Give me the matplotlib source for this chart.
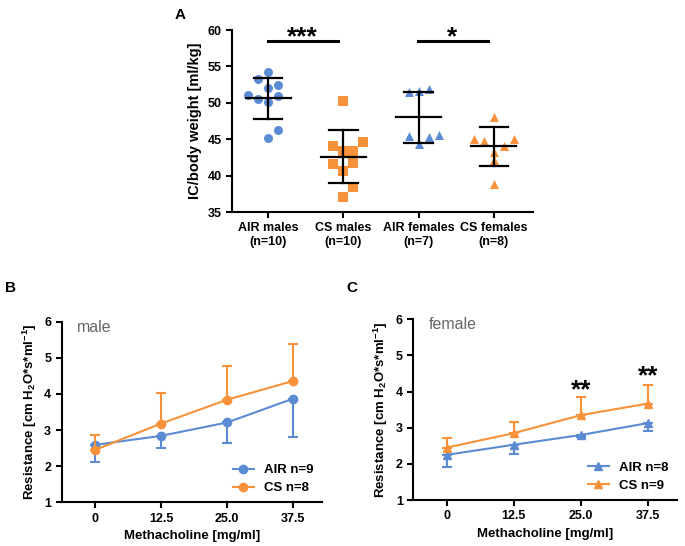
import matplotlib
matplotlib.use('Agg')
import matplotlib.pyplot as plt
from matplotlib.lines import Line2D
import numpy as np

plt.rcParams['font.family'] = ['Liberation Sans', 'DejaVu Sans']
plt.rcParams['font.weight'] = 'bold'
plt.rcParams['mathtext.fontset'] = 'custom'
plt.rcParams['mathtext.bf'] = 'Liberation Sans:bold'
plt.rcParams['mathtext.rm'] = 'Liberation Sans:bold'
plt.rcParams['mathtext.default'] = 'bf'

BLUE = '#5b8bd3'
ORANGE = '#f7923a'

# ---- panel A data (IC / body weight, ml/kg)
groups = ['AIR males\n(n=10)', 'CS males\n(n=10)', 'AIR females\n(n=7)', 'CS females\n(n=8)']
air_males = [54.2, 53.3, 52.4, 52.1, 51.1, 51.0, 50.5, 50.05, 46.3, 45.2]
cs_males = [50.2, 44.6, 44.1, 43.4, 43.4, 41.8, 41.6, 40.7, 38.4, 37.1]
air_females = [51.5, 51.6, 51.9, 45.4, 45.3, 45.6, 44.3]
cs_females = [48.0, 45.0, 44.8, 45.0, 44.0, 43.3, 42.1, 38.8]
group_mean = [50.6, 42.6, 48.0, 44.0]
group_sd = [2.85, 3.6, 3.5, 2.65]

# ---- panel B/C data (resistance)
mch = [0, 12.5, 25.0, 37.5]
male_air = [2.59, 2.84, 3.21, 3.87]
male_air_err = [0.46, 0.35, 0.57, 1.07]
male_cs = [2.45, 3.18, 3.84, 4.36]
male_cs_err = [0.41, 0.86, 0.92, 1.02]
female_air = [2.25, 2.53, 2.80, 3.13]
female_air_err = [0.35, 0.26, 0.07, 0.21]
female_cs = [2.45, 2.85, 3.35, 3.67]
female_cs_err = [0.27, 0.30, 0.49, 0.52]

fig = plt.figure(figsize=(6.85, 5.46), dpi=100)


def style_axes(ax):
    for s in ['top', 'right']:
        ax.spines[s].set_visible(False)
    for s in ['left', 'bottom']:
        ax.spines[s].set_linewidth(1.5)
    ax.tick_params(direction='out', width=1.5, length=4, labelsize=9)
    for lab in ax.get_xticklabels() + ax.get_yticklabels():
        lab.set_fontweight('bold')


# ---------------- A
axA = fig.add_axes([0.3387, 0.6117, 0.4394, 0.3333])
# horizontal column offsets for the dot plot
offsets = [
    [0, -1, 1, 0, -2, 1, -1, 0, 1, 0],
    [0, 2, -1, 0, 1, 1, -1, 0, 1, 0],
    [-1, 0, 1, -1, 1, 2, 0],
    [0, -2, -1, 2, 1, 0, 0, 0],
]
data_a = [air_males, cs_males, air_females, cs_females]
marks = ['o', 's', '^', '^']
cols = [BLUE, ORANGE, BLUE, ORANGE]
for i, (vals, off) in enumerate(zip(data_a, offsets)):
    x = i + np.array(off) * 0.133
    axA.scatter(x, vals, marker=marks[i], s=42, color=cols[i], zorder=2, linewidths=0)
    m, sd = group_mean[i], group_sd[i]
    axA.plot([i - 0.3, i + 0.3], [m, m], color='black', lw=1.6, zorder=3)
    axA.plot([i, i], [m - sd, m + sd], color='black', lw=1.6, zorder=3)
    axA.plot([i - 0.19, i + 0.19], [m + sd, m + sd], color='black', lw=1.6, zorder=3)
    axA.plot([i - 0.19, i + 0.19], [m - sd, m - sd], color='black', lw=1.6, zorder=3)

axA.plot([0, 0.93], [58.5, 58.5], color='black', lw=2.2, clip_on=False)
axA.plot([1.99, 2.92], [58.5, 58.5], color='black', lw=2.2, clip_on=False)
axA.text(0.46, 58.1, '***', ha='center', va='baseline', fontsize=19, fontweight='bold')
axA.text(2.45, 58.1, '*', ha='center', va='baseline', fontsize=19, fontweight='bold')

axA.set_xlim(-0.48, 3.52)
axA.set_ylim(35, 60)
axA.set_yticks([35, 40, 45, 50, 55, 60])
axA.set_xticks(range(4))
axA.set_xticklabels(groups)
axA.set_ylabel('IC/body weight [ml/kg]', fontsize=10.5, fontweight='bold')
style_axes(axA)
fig.text(0.255, 0.986, 'A', fontsize=11, fontweight='bold', va='top')


# ---------------- B & C
def resistance_panel(rect, air, air_err, cs, cs_err, marker, title, labels, stars=None):
    ax = fig.add_axes(rect)
    z = np.zeros(len(mch))
    ax.errorbar(mch, air, yerr=[air_err, z], color=BLUE, marker=marker, ms=6,
                lw=1.5, elinewidth=1.5, capsize=3.5, capthick=1.5, zorder=2)
    ax.errorbar(mch, cs, yerr=[z, cs_err], color=ORANGE, marker=marker, ms=6,
                lw=1.5, elinewidth=1.5, capsize=3.5, capthick=1.5, zorder=3)
    ax.set_xlim(-6.3, 42.9)
    ax.set_ylim(1, 6)
    ax.set_xticks(mch)
    ax.set_xticklabels(['0', '12.5', '25.0', '37.5'])
    ax.set_yticks([1, 2, 3, 4, 5, 6])
    ax.set_xlabel('Methacholine [mg/ml]', fontsize=9.5, fontweight='bold')
    ax.set_ylabel(r'Resistance [cm H$_2$O*s*ml$^{-1}$]', fontsize=9.5, fontweight='bold')
    ax.text(0.06, 0.97, title, transform=ax.transAxes, fontsize=11.5, fontweight='normal',
            color='#666666', va='center')
    handles = [Line2D([], [], color=BLUE, marker=marker, ms=6, lw=1.5),
               Line2D([], [], color=ORANGE, marker=marker, ms=6, lw=1.5)]
    leg = ax.legend(handles, labels, loc='lower right', frameon=False, fontsize=9.5,
                    handlelength=1.6, borderaxespad=0.2, labelspacing=0.45)
    for t in leg.get_texts():
        t.set_fontweight('bold')
    if stars:
        for xs, ys in stars:
            ax.text(xs, ys, '**', ha='center', va='baseline', fontsize=19, fontweight='bold')
    style_axes(ax)
    return ax


axB = resistance_panel([0.090, 0.080, 0.3796, 0.3308], male_air, male_air_err,
                       male_cs, male_cs_err, 'o', 'male', ['AIR n=9', 'CS n=8'])
axC = resistance_panel([0.6034, 0.0842, 0.3845, 0.331], female_air, female_air_err,
                       female_cs, female_cs_err, '^', 'female', ['AIR n=8', 'CS n=9'],
                       stars=[(25.0, 3.84), (37.5, 4.22)])
axC.set_xlim(-6.2, 42.8)

fig.text(0.007, 0.485, 'B', fontsize=11, fontweight='bold', va='top')
fig.text(0.505, 0.485, 'C', fontsize=11, fontweight='bold', va='top')

fig.savefig('out.png', dpi=100)
